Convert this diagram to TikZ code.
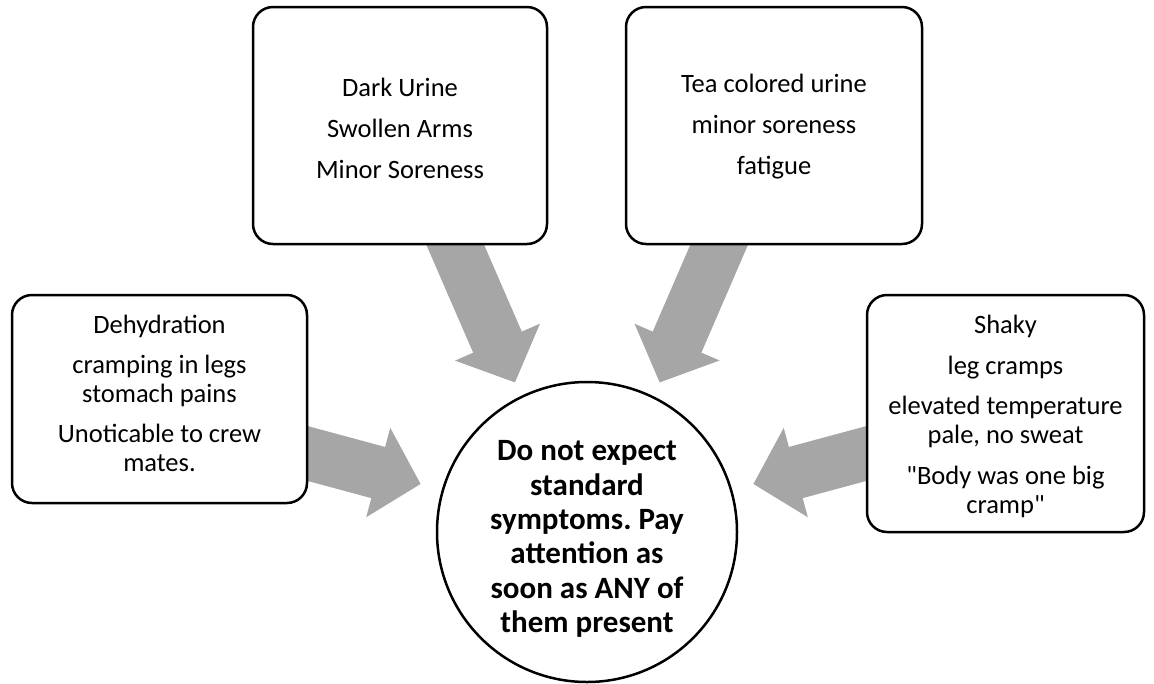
\documentclass[tikz,border=0pt]{standalone}
\usepackage{fontspec}
\setmainfont{Carlito}[Ligatures=TeXOff]
\usetikzlibrary{arrows.meta}
\definecolor{arrowgray}{RGB}{166,166,166}
\begin{document}
\frenchspacing
\begin{tikzpicture}[x=1pt,y=-1pt,
  symbox/.style={draw=black, line width=2.5pt, fill=white, rounded corners=20pt, inner sep=0pt},
  symtext/.style={align=center, inner sep=0pt, font=\fontsize{26.5}{29}\selectfont},
  centre/.style={draw=black, line width=2.5pt, fill=white, circle, minimum size=300pt, inner sep=0pt},
  centretext/.style={align=center, inner sep=0pt, font=\bfseries\fontsize{31}{34.4}\selectfont},
  bigarrow/.style={draw=arrowgray, line width=53pt, -{Triangle[length=44pt,width=90pt]}}]
\useasboundingbox (0,0) rectangle (1154,683);
% arrow end points
\coordinate (a1s) at (427.4,180.8); \coordinate (a1e) at (515,382.5);
\coordinate (a2s) at (746.8,180.8); \coordinate (a2e) at (659.6,382.5);
\coordinate (a3s) at (250.2,438);   \coordinate (a3e) at (420.7,484);
\coordinate (a4s) at (923.8,438);   \coordinate (a4e) at (753.3,484);
\draw[bigarrow] (a1s) -- (a1e);
\draw[bigarrow] (a2s) -- (a2e);
\draw[bigarrow] (a3s) -- (a3e);
\draw[bigarrow] (a4s) -- (a4e);
% boxes
\node[symbox, minimum width=294pt, minimum height=237pt] (tl) at (400,125.5) {};
\node[symbox, minimum width=296pt, minimum height=237pt] (tr) at (774,125.5) {};
\node[symbox, minimum width=295pt, minimum height=208pt] (lf) at (159.5,399) {};
\node[symbox, minimum width=277pt, minimum height=237pt] (rt) at (1005.5,413.5) {};
\node[centre] (c) at (587,532) {};
% texts
\node[symtext] (tlt) at (400,128)
  {Dark Urine\\[12pt] Swollen Arms\\[12pt] Minor Soreness};
\node[symtext] (trt) at (774,127)
  {Tea colored urine\\[12pt] minor soreness\\[12pt] fatigue};
\node[symtext] (lft) at (159.5,393)
  {Dehydration\\[11pt] cramping in legs\\ stomach pains\\[11pt] Unoticable to crew\\ mates.};
\node[symtext] (rtt) at (1005.5,416)
  {Shaky\\[12pt] leg cramps\\[11pt] elevated temperature\\ pale, no sweat\\[12pt] "Body was one big\\ cramp"};
\node[centretext] (ct) at (587,539)
  {Do not expect\\ standard\\ symptoms. Pay\\ attention as\\ soon as ANY of\\ them present};
\end{tikzpicture}
\end{document}
